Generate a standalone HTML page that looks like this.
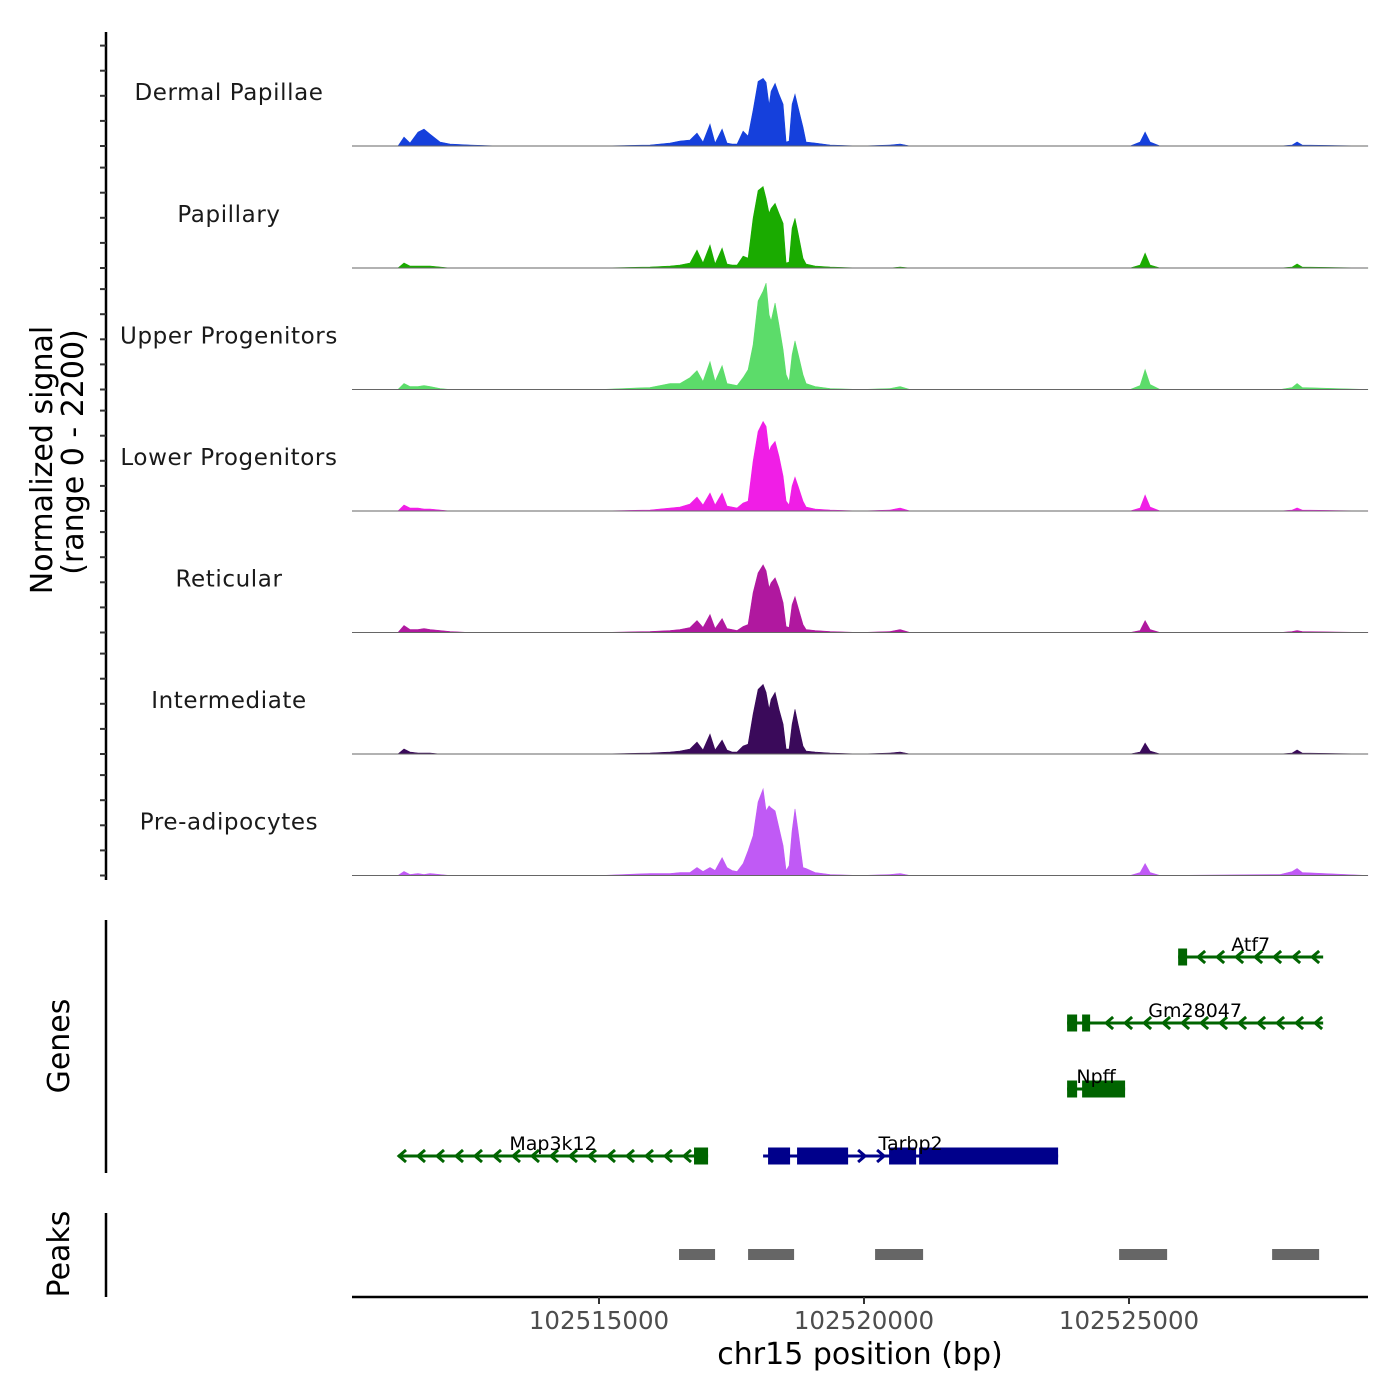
<!DOCTYPE html>
<html><head><meta charset="utf-8">
<style>
html,body{margin:0;padding:0;background:#fff;}
svg{display:block;font-family:"DejaVu Sans","Liberation Sans",sans-serif;}
</style></head>
<body>
<svg id="chart" width="1400" height="1400" viewBox="0 0 1400 1400">
  <rect x="0" y="0" width="1400" height="1400" fill="#fff"/>
  <g id="tracks"></g>
  <g id="genes"></g>
  <g id="peaks"></g>
  <g id="axes"></g>
  <text x="52" y="460" font-size="30" fill="#000" text-anchor="middle" transform="rotate(-90 52 460)">Normalized signal</text>
  <text x="83" y="452" font-size="30" fill="#000" text-anchor="middle" transform="rotate(-90 83 452)">(range 0 - 2200)</text>
  <text x="69" y="1046" font-size="30" fill="#000" text-anchor="middle" transform="rotate(-90 69 1046)">Genes</text>
  <text x="69" y="1254" font-size="30" fill="#000" text-anchor="middle" transform="rotate(-90 69 1254)">Peaks</text>
  <text x="860" y="1364" font-size="30" fill="#000" text-anchor="middle">chr15 position (bp)</text>
</svg>
<script>
// ---- data ----
const positions = [102510340,102511208,102511321,102511434,102511585,102511699,102511812,102512001,102512189,102512567,102513133,102515020,102515963,102516341,102516529,102516718,102516850,102516963,102517095,102517190,102517322,102517416,102517511,102517605,102517718,102517813,102517907,102518001,102518096,102518152,102518209,102518247,102518322,102518397,102518473,102518530,102518586,102518643,102518699,102518756,102518850,102518907,102519077,102519360,102519926,102520492,102520681,102520869,102522568,102525021,102525210,102525304,102525398,102525587,102527851,102528078,102528172,102528267,102529512];
const trackNames = ["Dermal Papillae","Papillary","Upper Progenitors","Lower Progenitors","Reticular","Intermediate","Pre-adipocytes"];
const trackColors = ["#1540dc","#1aab00","#5cdc6a","#f01ee6","#b0189f","#3a0a5a","#c05af5"];
const dermalPapillae = [0,0,162,54,252,306,216,72,36,18,0,0,18,54,90,108,234,72,396,54,306,54,36,36,270,180,648,1170,1224,1152,738,990,1134,936,756,72,90,756,936,702,342,72,54,18,0,18,36,0,0,0,72,252,72,0,0,18,72,18,0];
const papillary = [0,0,90,36,36,36,36,18,0,0,0,0,18,36,54,90,324,90,414,72,360,72,54,54,216,180,900,1404,1476,1260,990,1080,1170,990,810,90,108,720,900,630,180,72,36,18,0,0,18,0,0,0,54,270,54,0,0,18,72,18,0];
const upperProgenitors = [0,0,108,54,54,72,54,18,0,0,0,0,36,108,108,216,342,144,504,144,432,108,90,72,216,360,810,1602,1782,1926,1350,1242,1566,1170,720,270,144,630,882,648,270,108,54,18,0,18,54,0,0,0,72,360,90,0,0,36,108,36,0];
const lowerProgenitors = [0,0,108,54,54,36,36,18,0,0,0,0,18,54,72,126,252,108,324,108,324,90,72,54,144,180,900,1440,1620,1530,1080,1170,1260,990,630,180,108,450,612,450,180,72,36,18,0,18,54,0,0,0,54,288,72,0,0,18,54,18,0];
const reticular = [0,0,126,54,54,72,54,36,18,0,0,0,18,36,54,90,216,90,324,72,252,72,54,36,108,144,720,1080,1224,1116,810,900,990,810,540,108,90,504,648,450,144,54,36,18,0,18,54,0,0,0,36,216,54,0,0,18,36,18,0];
const intermediate = [0,0,90,36,18,18,18,0,0,0,0,0,18,36,54,90,216,72,360,72,252,72,36,36,144,180,720,1170,1260,1116,810,990,1116,810,540,90,90,540,810,540,144,54,36,18,0,18,36,0,0,0,36,198,54,0,0,18,72,18,0];
const preAdipocytes = [0,0,72,18,36,18,36,18,0,0,0,0,36,36,54,54,144,72,144,90,324,144,90,72,216,450,720,1332,1566,1170,1260,1224,1170,864,540,90,180,810,1206,810,144,126,54,18,0,18,36,0,0,0,54,216,54,0,18,72,126,54,0];
const xTicks = [102515000,102520000,102525000];
const xTickLabels = ["102515000","102520000","102525000"];
const geneNames = ["Atf7","Gm28047","Npff","Map3k12","Tarbp2"];
const geneStarts = [102525927,102523832,102523832,102511208,102518096];
const geneEnds = [102528663,102528663,102524926,102517058,102523662];
const geneStrands = ["-","-","-","-","+"];
const geneRows = [0,1,2,3,3];
const geneExons = [
  [[102525927,102526096]],
  [[102523832,102524021],[102524115,102524266]],
  [[102523832,102524021],[102524115,102524926]],
  [[102516793,102517058]],
  [[102518190,102518605],[102518737,102519700],[102520473,102520983],[102521040,102523662]]
];
const peakStarts = [102516510,102517813,102520209,102524813,102527700];
const peakEnds = [102517190,102518681,102521115,102525719,102528587];

// ---- scales ----
const X0 = 352, X1 = 1368, DOM0 = 102510340, DOM1 = 102529509;
function xs(bp){ return X0 + (bp - DOM0) / (DOM1 - DOM0) * (X1 - X0); }
const baselines = [146,268,389.5,511,632.5,754,875.5];
const TRACK_H = 121.5, YMAX = 2200;
function ys(v, i){ return baselines[i] - v / YMAX * TRACK_H; }

const NS = "http://www.w3.org/2000/svg";
function mk(tag, attrs, parent){
  const e = document.createElementNS(NS, tag);
  for (const k in attrs) e.setAttribute(k, attrs[k]);
  parent.appendChild(e);
  return e;
}

// ---- coverage ----
const series = [dermalPapillae,papillary,upperProgenitors,lowerProgenitors,reticular,intermediate,preAdipocytes];
const tracksG = document.getElementById('tracks');
series.forEach((vals, i) => {
  const n = Math.min(vals.length, positions.length);
  let d = `M${xs(positions[0]).toFixed(1)},${baselines[i]}`;
  for (let k = 0; k < n; k++) d += ` L${xs(positions[k]).toFixed(1)},${ys(vals[k], i).toFixed(1)}`;
  d += ` L${xs(positions[n-1]).toFixed(1)},${baselines[i]} Z`;
  const p = mk('path', {d: d, fill: trackColors[i], stroke: trackColors[i], 'stroke-width': 0.6}, tracksG);
  
  
  const bl = mk('line', {x1: X0, x2: X1, y1: baselines[i], y2: baselines[i], stroke: '#666', 'stroke-width': 1}, tracksG);
  
  
  const t = mk('text', {x: 229, y: baselines[i] - 46, 'font-size': 23, 'text-anchor': 'middle', fill: '#1a1a1a', 'letter-spacing': '0.6'}, tracksG);
  t.textContent = trackNames[i];
  
  
});

// ---- genes ----
const genesG = document.getElementById('genes');
const rowY = [957, 1023, 1089, 1156];
geneNames.forEach((name, g) => {
  const y = rowY[geneRows[g]];
  const col = geneStrands[g] === '+' ? '#00008b' : '#006400';
  const x1 = xs(geneStarts[g]), x2 = xs(geneEnds[g]);
  const grp = mk('g', {}, genesG);
  
  
  mk('line', {x1: x1, x2: x2, y1: y, y2: y, stroke: col, 'stroke-width': 3}, grp);
  const ex = geneExons[g].map(e => [xs(e[0]), xs(e[1])]);
  for (let ax = x1 + 4; ax < x2 - 2; ax += 19) {
    if (ex.some(e => ax > e[0] - 4 && ax < e[1] + 4)) continue;
    const pts = geneStrands[g] === '+' ? `${ax-4},${y-6} ${ax+3},${y} ${ax-4},${y+6}` : `${ax+4},${y-6} ${ax-3},${y} ${ax+4},${y+6}`;
    mk('polyline', {points: pts, fill: 'none', stroke: col, 'stroke-width': 3}, grp);
  }
  ex.forEach(e => {
    mk('rect', {x: e[0], y: y - 8.5, width: Math.max(2, e[1] - e[0]), height: 17, fill: col}, grp);
  });
  const t = mk('text', {x: (x1 + x2) / 2, y: y - 6, 'font-size': 19, 'text-anchor': 'middle', fill: '#000'}, grp);
  t.textContent = name;
  
  
});

// ---- peaks ----
const peaksG = document.getElementById('peaks');
peakStarts.forEach((s, i) => {
  const r = mk('rect', {x: xs(s), y: 1249, width: xs(peakEnds[i]) - xs(s), height: 11, fill: '#666'}, peaksG);
  
  
});

// ---- axes ----
const axesG = document.getElementById('axes');
function vline(y1, y2, name){
  const l = mk('line', {x1: 106, x2: 106, y1: y1, y2: y2, stroke: '#000', 'stroke-width': 2.5}, axesG);
  
  
}
vline(32, 880, 'y-axis-line');
vline(920, 1173, 'genes-axis-line');
vline(1213, 1297, 'peaks-axis-line');
baselines.forEach(b => {
  for (let k = 0; k < 5; k++) {
    const tk = mk('line', {x1: 100, x2: 106, y1: b - k * 25.1, y2: b - k * 25.1, stroke: '#333', 'stroke-width': 2}, axesG);
    
    
  }
});
const xl = mk('line', {x1: X0, x2: X1, y1: 1297, y2: 1297, stroke: '#000', 'stroke-width': 2.5}, axesG);


xTicks.forEach((t, i) => {
  const x = xs(t);
  const tk = mk('line', {x1: x, x2: x, y1: 1297, y2: 1304, stroke: '#333', 'stroke-width': 2}, axesG);
  
  
  const lb = mk('text', {x: x, y: 1329, 'font-size': 24.5, 'text-anchor': 'middle', fill: '#4d4d4d'}, axesG);
  lb.textContent = xTickLabels[i];
  
  
});
</script>
</body></html>
